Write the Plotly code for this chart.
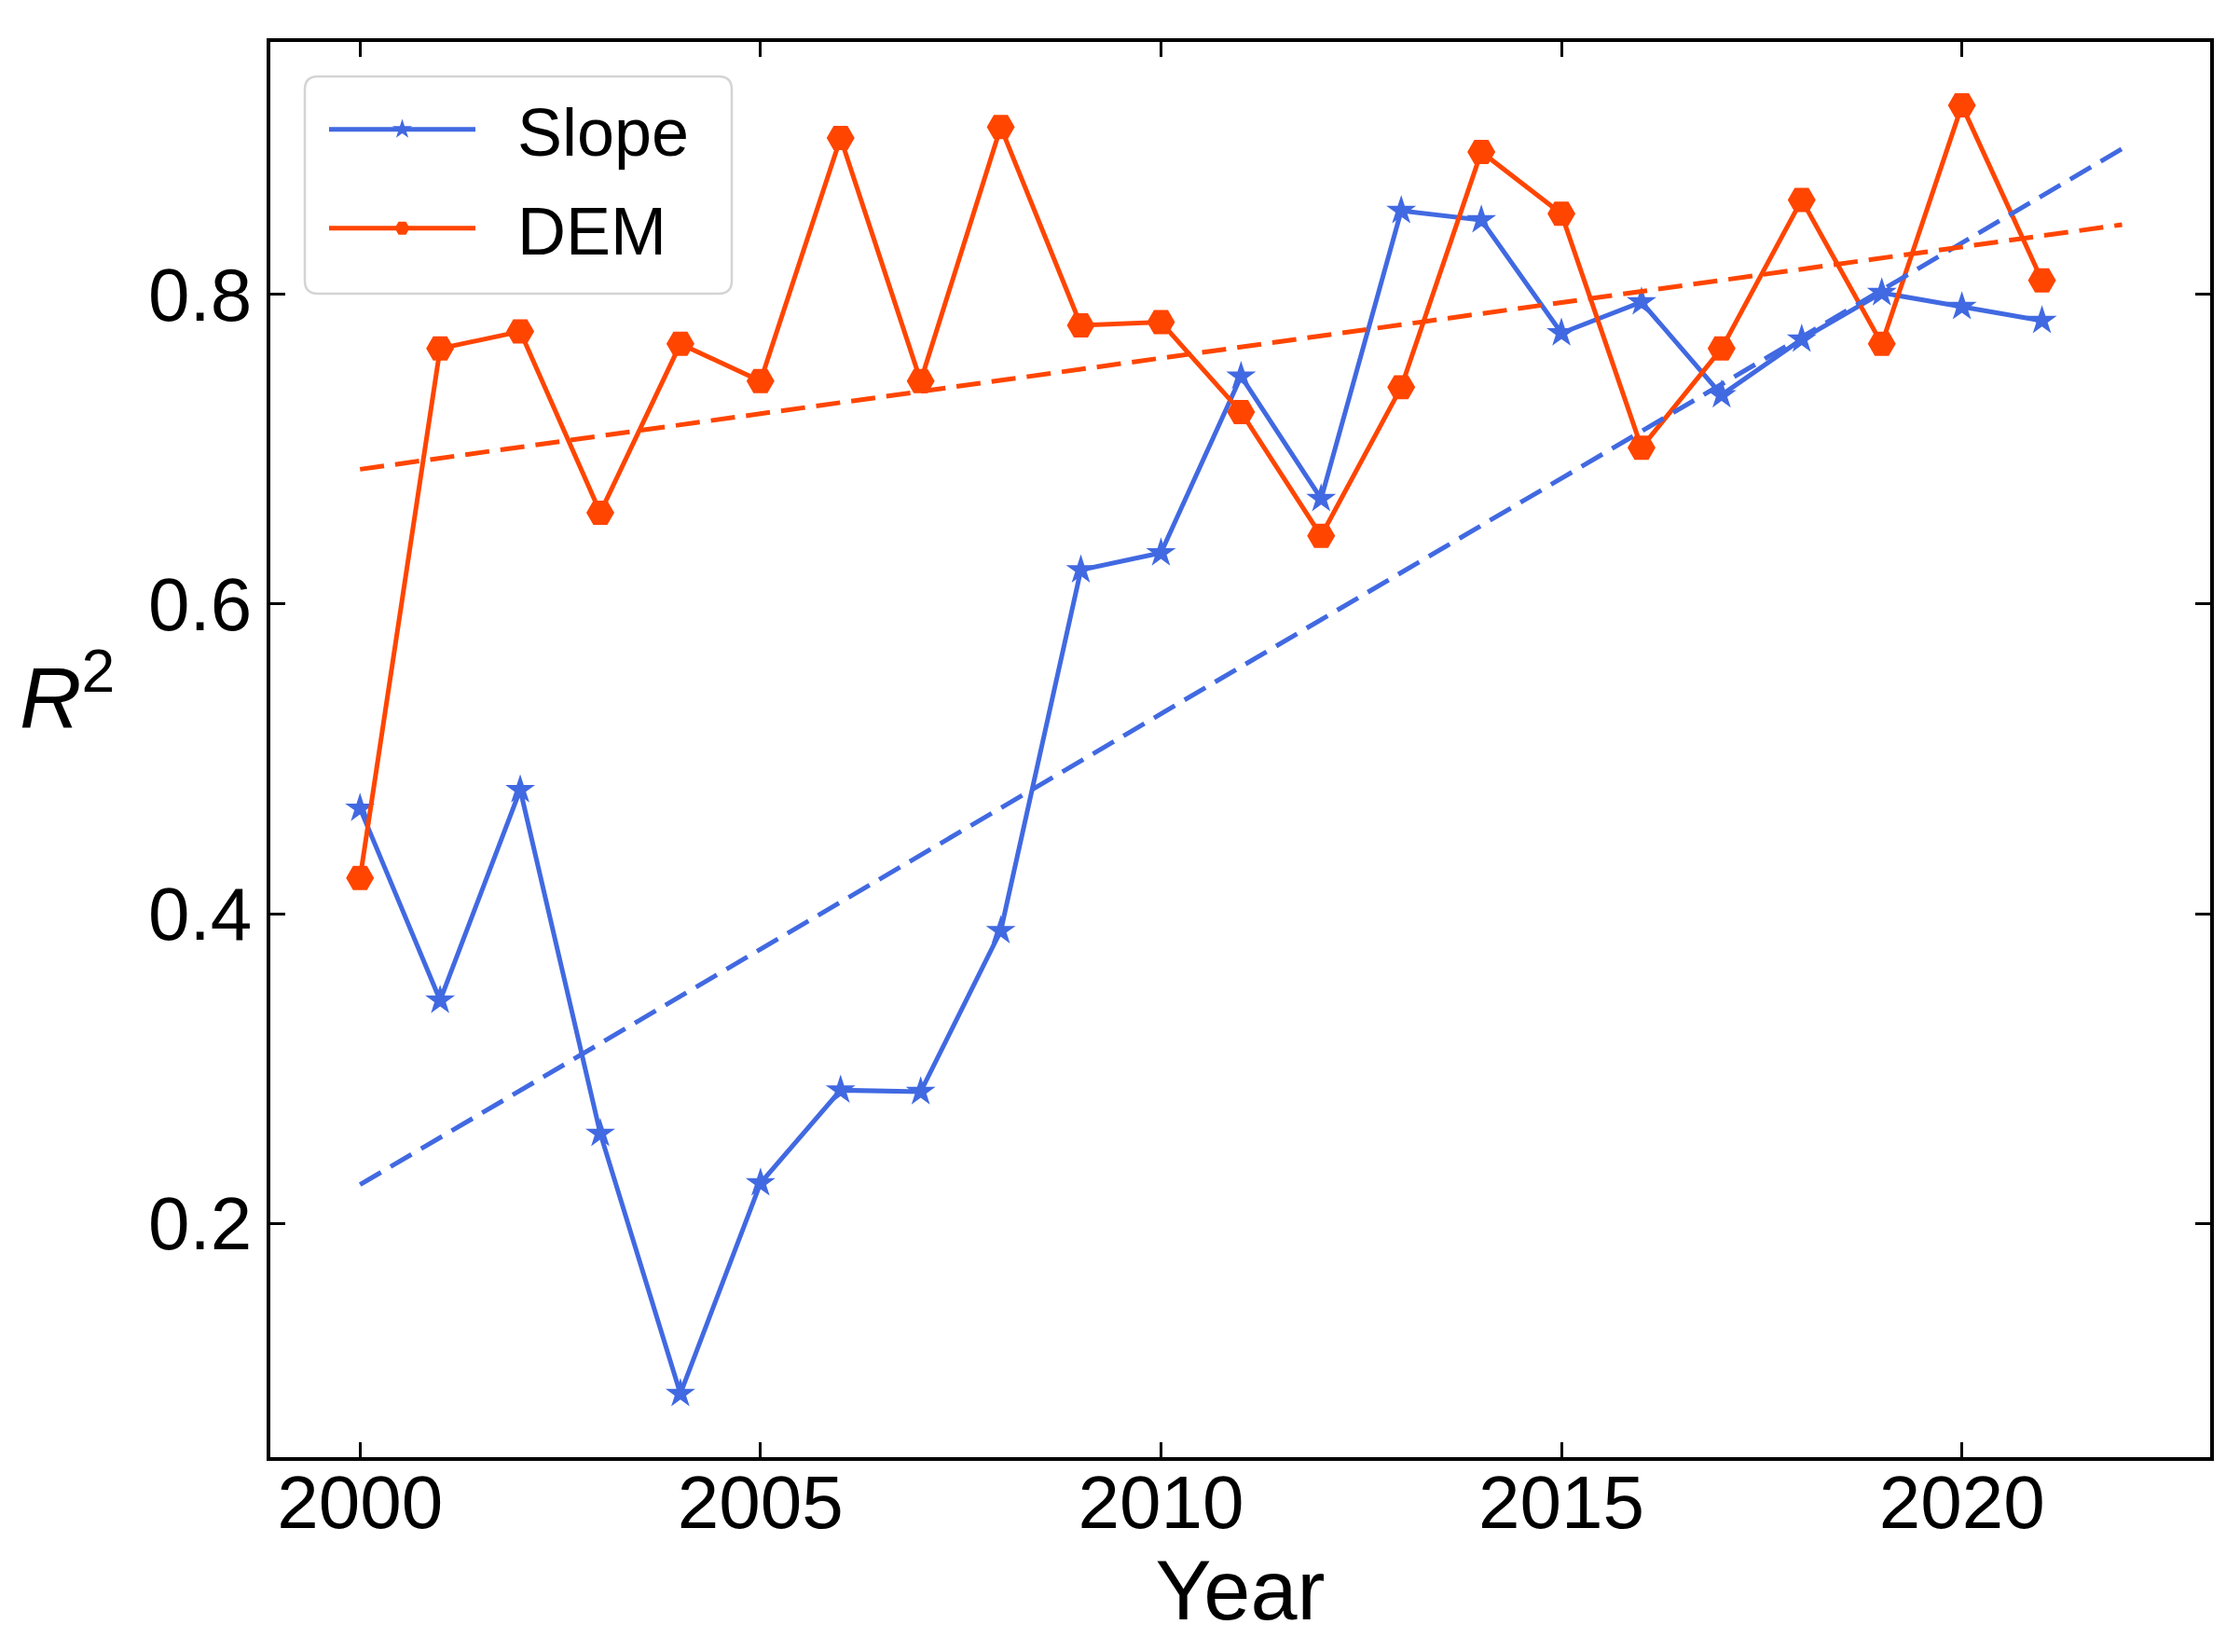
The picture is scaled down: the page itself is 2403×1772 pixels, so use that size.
import plotly.graph_objects as go

# ---- data ----
years = list(range(2000, 2022))
slope_r2 = [0.468, 0.344, 0.480, 0.258, 0.090, 0.226, 0.286, 0.285, 0.389, 0.622, 0.633,
            0.747, 0.668, 0.854, 0.848, 0.775, 0.795, 0.735, 0.771, 0.801, 0.792, 0.783]
dem_r2 = [0.423, 0.765, 0.776, 0.659, 0.768, 0.744, 0.901, 0.744, 0.908, 0.780, 0.782,
          0.724, 0.644, 0.740, 0.892, 0.852, 0.701, 0.765, 0.861, 0.768, 0.922, 0.809]
trend_years = [2000, 2022]
slope_trend = [0.225, 0.894]
dem_trend = [0.687, 0.845]
x_ticks = [2000, 2005, 2010, 2015, 2020]
y_ticks = [0.2, 0.4, 0.6, 0.8]
y_ticktext = ["0.2", "0.4", "0.6", "0.8"]

BLUE = "#4169E1"
ORANGE = "#FF4500"
FONT = "Liberation Sans, Arial, sans-serif"

W, H = 2403, 1772
L, R, T, B = 290, 32, 45, 209
PW, PH = W - L - R, H - T - B


def px_x(p):
    return (p - L) / PW


def px_y(p):
    return (H - B - p) / PH


fig = go.Figure()
fig.add_trace(go.Scatter(x=years, y=slope_r2, mode="lines+markers", name="\u00a0\u00a0Slope",
                         line=dict(color=BLUE, width=5),
                         marker=dict(symbol="star", size=24, color=BLUE, line=dict(width=0)),
                         legend="legend"))
fig.add_trace(go.Scatter(x=years, y=dem_r2, mode="lines+markers", name="\u00a0\u00a0DEM",
                         line=dict(color=ORANGE, width=5),
                         marker=dict(symbol="hexagon2", size=30, color=ORANGE, line=dict(width=0)),
                         legend="legend2"))
fig.add_trace(go.Scatter(x=trend_years, y=slope_trend, mode="lines", showlegend=False,
                         line=dict(color=BLUE, width=5, dash="26px,12px")))
fig.add_trace(go.Scatter(x=trend_years, y=dem_trend, mode="lines", showlegend=False,
                         line=dict(color=ORANGE, width=5, dash="26px,12px")))

axis_common = dict(ticks="inside", ticklen=16, tickwidth=3, tickcolor="black",
                   showline=True, linecolor="black", linewidth=3.5, mirror="ticks",
                   showgrid=False, zeroline=False,
                   tickfont=dict(family=FONT, size=80, color="black"))

fig.update_xaxes(range=[1998.88, 2023.1], tickvals=x_ticks, ticklabelstandoff=-24,
                 title=dict(text="Year", font=dict(family=FONT, size=90, color="black"), standoff=6),
                 **axis_common)
fig.update_yaxes(range=[0.049, 0.963], tickvals=y_ticks, ticktext=y_ticktext, **axis_common)

# rounded legend frame
x0, x1 = px_x(327), px_x(785)
y0, y1 = px_y(315), px_y(82)
rx, ry = 14 / PW, 14 / PH
path = (f"M{x0+rx},{y0} L{x1-rx},{y0} Q{x1},{y0} {x1},{y0+ry} L{x1},{y1-ry} Q{x1},{y1} {x1-rx},{y1} "
        f"L{x0+rx},{y1} Q{x0},{y1} {x0},{y1-ry} L{x0},{y0+ry} Q{x0},{y0} {x0+rx},{y0} Z")
fig.add_shape(type="path", path=path, xref="paper", yref="paper",
              line=dict(color="#d4d4d4", width=2.5), fillcolor="rgba(255,255,255,0.85)", layer="above")

leg_common = dict(bgcolor="rgba(0,0,0,0)", borderwidth=0, xanchor="left", yanchor="middle",
                  font=dict(family=FONT, size=72, color="black"), itemwidth=157)

fig.add_annotation(text="<i>R</i><sup>2</sup>", xref="paper", yref="paper",
                   x=px_x(72), y=px_y(742), xanchor="center", yanchor="middle",
                   showarrow=False, font=dict(family=FONT, size=92, color="black"))

fig.update_layout(
    width=W, height=H,
    margin=dict(l=L, r=R, t=T, b=B),
    paper_bgcolor="white", plot_bgcolor="white",
    legend=dict(x=px_x(348), y=px_y(139), **leg_common),
    legend2=dict(x=px_x(348), y=px_y(245), **leg_common),
)

fig.write_html("out.html", config={"displayModeBar": False},
               post_script="document.body.style.margin='0';")
